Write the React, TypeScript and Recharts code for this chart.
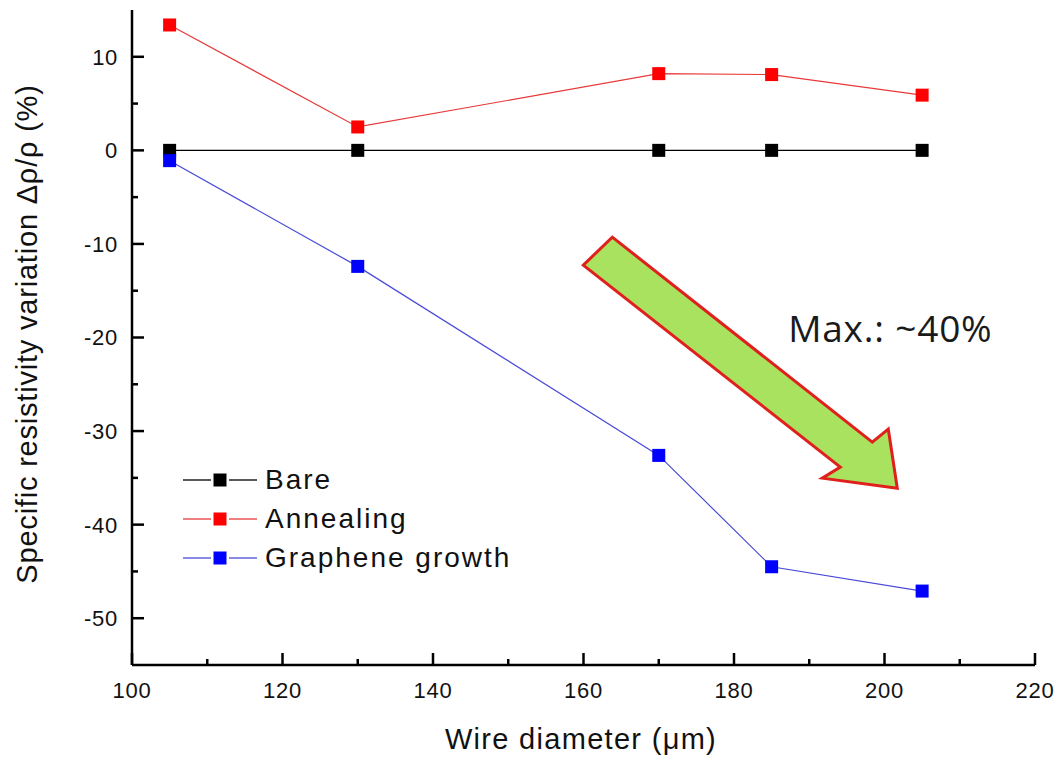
import { LineChart, Line, XAxis, YAxis, ReferenceDot, Legend } from 'recharts';

const diameters = [105, 130, 170, 185, 205];
const bareValues = [0, 0, 0, 0, 0];
const annealingValues = [13.4, 2.5, 8.2, 8.1, 5.9];
const grapheneValues = [-1.1, -12.4, -32.6, -44.5, -47.1];

const xTicks = [100, 110, 120, 130, 140, 150, 160, 170, 180, 190, 200, 210, 220];
const yTicks = [-50, -45, -40, -35, -30, -25, -20, -15, -10, -5, 0, 5, 10];

const seriesInfo = [
  { key: 'bare', name: 'Bare', line: '#000000', fill: '#000000' },
  { key: 'annealing', name: 'Annealing', line: '#e8393a', fill: '#ff0000' },
  { key: 'graphene', name: 'Graphene growth', line: '#4a4ad8', fill: '#0000ff' },
];

const arrowTip = { x: 201.7, y: -36.1 };
const noteAnchor = { x: 187.2, y: -20.5, text: 'Max.: ~40%' };

const data = diameters.map((d, i) => ({
  d,
  bare: bareValues[i],
  annealing: annealingValues[i],
  graphene: grapheneValues[i],
}));

const FONT = '"Liberation Sans", Arial, sans-serif';

const isMajorX = (v: number) => v % 20 === 0;
const isMajorY = (v: number) => v % 10 === 0;

function BottomTick({ x, y, payload }: any) {
  const major = isMajorX(payload.value);
  return (
    <g>
      <line x1={x} y1={y} x2={x} y2={y - (major ? 12 : 6)} stroke="#000" strokeWidth={2.5} />
      {major && (
        <text x={x} y={y + 33} textAnchor="middle" fontSize={22} letterSpacing={0.7} fontFamily={FONT} fill="#111">
          {payload.value}
        </text>
      )}
    </g>
  );
}

function TopTick({ x, y, payload }: any) {
  const major = isMajorX(payload.value);
  return <line x1={x} y1={y} x2={x} y2={y + (major ? 12 : 6)} stroke="#000" strokeWidth={2.5} />;
}

function LeftTick({ x, y, payload }: any) {
  const major = isMajorY(payload.value);
  return (
    <g>
      <line x1={x} y1={y} x2={x + (major ? 12 : 6)} y2={y} stroke="#000" strokeWidth={2.5} />
      {major && (
        <text x={x - 14} y={y} dy="0.36em" textAnchor="end" fontSize={22} letterSpacing={0.7} fontFamily={FONT} fill="#111">
          {payload.value}
        </text>
      )}
    </g>
  );
}

function RightTick({ x, y, payload }: any) {
  const major = isMajorY(payload.value);
  return <line x1={x} y1={y} x2={x - (major ? 12 : 6)} y2={y} stroke="#000" strokeWidth={2.5} />;
}

const squareDot = (fill: string) => (props: any) => {
  const { cx, cy, index } = props;
  return <rect key={index} x={cx - 6.5} y={cy - 6.5} width={13} height={13} fill={fill} />;
};

function ArrowShape({ cx, cy }: any) {
  const pts = [
    [-285, -251],
    [-25, -46],
    [-9, -59],
    [0, 0],
    [-75, -10],
    [-57, -21],
    [-314, -223],
  ]
    .map(([dx, dy]) => `${cx + dx},${cy + dy}`)
    .join(' ');
  return <polygon points={pts} fill="#a8e25e" stroke="#e0201c" strokeWidth={3} strokeLinejoin="miter" />;
}

function NoteShape({ cx, cy }: any) {
  return (
    <text
      x={cx}
      y={cy}
      fontSize={37}
      letterSpacing={0.8}
      fontFamily='"Open Sans", "Noto Sans", sans-serif'
      fill="#1a1a1a"
    >
      {noteAnchor.text}
    </text>
  );
}

function LegendBox() {
  return (
    <div style={{ fontFamily: FONT, fontSize: 28, letterSpacing: 2, color: '#111' }}>
      {seriesInfo.map((s) => (
        <div key={s.key} style={{ display: 'flex', alignItems: 'center', height: 39 }}>
          <svg width={82} height={20} style={{ display: 'block' }}>
            <line x1={0} y1={10} x2={28} y2={10} stroke={s.line} strokeWidth={1.3} />
            <line x1={46} y1={10} x2={74} y2={10} stroke={s.line} strokeWidth={1.3} />
            <rect x={30.5} y={3.5} width={13} height={13} fill={s.fill} />
          </svg>
          <span>{s.name}</span>
        </div>
      ))}
    </div>
  );
}

export default function App() {
  return (
    <div style={{ position: 'absolute', left: 0, top: 0, width: 1060, height: 763, background: '#fff' }}>
      <LineChart width={1060} height={763} data={data} margin={{ top: 10, right: 25, bottom: 0, left: 0 }}>
        <XAxis
          xAxisId="bottom"
          dataKey="d"
          type="number"
          domain={[100, 220]}
          ticks={xTicks}
          interval={0}
          height={98}
          tickSize={0}
          tickMargin={0}
          tickLine={false}
          axisLine={{ stroke: '#000', strokeWidth: 2.5 }}
          tick={<BottomTick />}
          label={{
            content: () => (
              <text x={581} y={749} textAnchor="middle" fontSize={29} letterSpacing={1.3} fontFamily={FONT} fill="#111">
                {'Wire diameter (\u03bcm)'}
              </text>
            ),
          }}
        />
        <XAxis
          xAxisId="top"
          orientation="top"
          dataKey="d"
          type="number"
          domain={[100, 220]}
          ticks={xTicks}
          interval={0}
          height={0}
          tickSize={0}
          tickMargin={0}
          tickLine={false}
          axisLine={{ stroke: '#000', strokeWidth: 2.5 }}
          tick={<TopTick />}
        />
        <YAxis
          yAxisId="left"
          type="number"
          domain={[-55, 15]}
          ticks={yTicks}
          interval={0}
          width={132}
          tickSize={0}
          tickMargin={0}
          tickLine={false}
          axisLine={{ stroke: '#000', strokeWidth: 2.5 }}
          tick={<LeftTick />}
          label={{
            content: () => (
              <text
                x={37}
                y={334}
                transform="rotate(-90 37 334)"
                textAnchor="middle"
                fontSize={29}
                letterSpacing={0.8}
                fontFamily={FONT}
                fill="#111"
              >
                {'Specific resistivity variation \u0394\u03c1/\u03c1 (%)'}
              </text>
            ),
          }}
        />
        <YAxis
          yAxisId="right"
          orientation="right"
          type="number"
          domain={[-55, 15]}
          ticks={yTicks}
          interval={0}
          width={0}
          tickSize={0}
          tickMargin={0}
          tickLine={false}
          axisLine={{ stroke: '#000', strokeWidth: 2.5 }}
          tick={<RightTick />}
        />
        <ReferenceDot
          xAxisId="bottom"
          yAxisId="left"
          x={arrowTip.x}
          y={arrowTip.y}
          shape={<ArrowShape />}
          ifOverflow="visible"
        />
        <ReferenceDot
          xAxisId="bottom"
          yAxisId="left"
          x={noteAnchor.x}
          y={noteAnchor.y}
          shape={<NoteShape />}
          ifOverflow="visible"
        />
        {seriesInfo.map((s) => (
          <Line
            key={s.key}
            xAxisId="bottom"
            yAxisId="left"
            type="linear"
            dataKey={s.key}
            name={s.name}
            stroke={s.line}
            strokeWidth={1.2}
            dot={squareDot(s.fill)}
            activeDot={false}
            isAnimationActive={false}
          />
        ))}
        <Legend
          layout="horizontal"
          verticalAlign="middle"
          align="center"
          content={<LegendBox />}
          wrapperStyle={{ position: 'absolute', left: 183, top: 460, width: 360 }}
        />
      </LineChart>
    </div>
  );
}
